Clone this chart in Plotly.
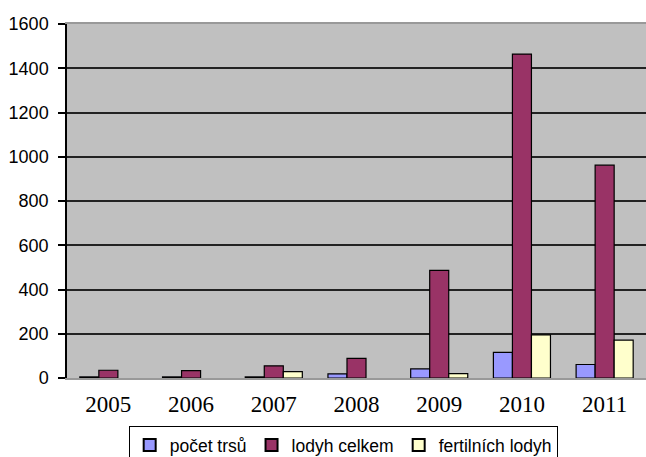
import plotly.graph_objects as go

years = ["2005", "2006", "2007", "2008", "2009", "2010", "2011"]
pocet_trsu = [5, 5, 5, 19, 41, 116, 61]
lodyh_celkem = [35, 33, 55, 89, 486, 1464, 962]
fertilnich_lodyh = [0, 0, 29, 0, 20, 195, 171]

names = ["počet trsů", "lodyh celkem", "fertilních lodyh"]
colors = ["#9999FF", "#993366", "#FFFFCC"]
series = [pocet_trsu, lodyh_celkem, fertilnich_lodyh]

fig = go.Figure()
for name, vals, col in zip(names, series, colors):
    fig.add_trace(go.Bar(
        x=years, y=vals, name=name,
        marker=dict(color=col,
                    line=dict(color="#000000",
                              width=[0 if v == 0 else 1.2 for v in vals])),
    ))

fig.update_layout(
    width=646, height=457,
    margin=dict(l=67, r=0, t=24, b=79, autoexpand=False),
    paper_bgcolor="white",
    plot_bgcolor="#C0C0C0",
    barmode="group",
    bargap=0.31,
    bargroupgap=0,
    showlegend=True,
    legend=dict(
        orientation="h",
        x=0.477, xanchor="center",
        y=-0.136, yanchor="top",
        bordercolor="#000000", borderwidth=1,
        bgcolor="white",
        font=dict(family="Liberation Sans, Arial, sans-serif", size=17.5, color="#000000"),
        itemsizing="constant",
        tracegroupgap=0,
        itemwidth=30,
    ),
    xaxis=dict(
        showgrid=False,
        showline=True, mirror=True, linecolor="#999999", linewidth=2,
        ticks="",
        tickfont=dict(family="Liberation Serif, Times New Roman, serif", size=23, color="#000000"),
        ticklabelstandoff=4,
    ),
    yaxis=dict(
        range=[0, 1600],
        tickvals=[0, 200, 400, 600, 800, 1000, 1200, 1400, 1600],
        showgrid=True, gridcolor="#222222", gridwidth=1.5,
        zeroline=False,
        showline=True, linecolor="#000000", linewidth=1.5,
        ticks="outside", ticklen=7, tickcolor="#000000", tickwidth=1.5,
        tickfont=dict(family="Liberation Sans, Arial, sans-serif", size=18, color="#000000"),
        ticklabelstandoff=6,
    ),
)

fig.write_html("out.html")
